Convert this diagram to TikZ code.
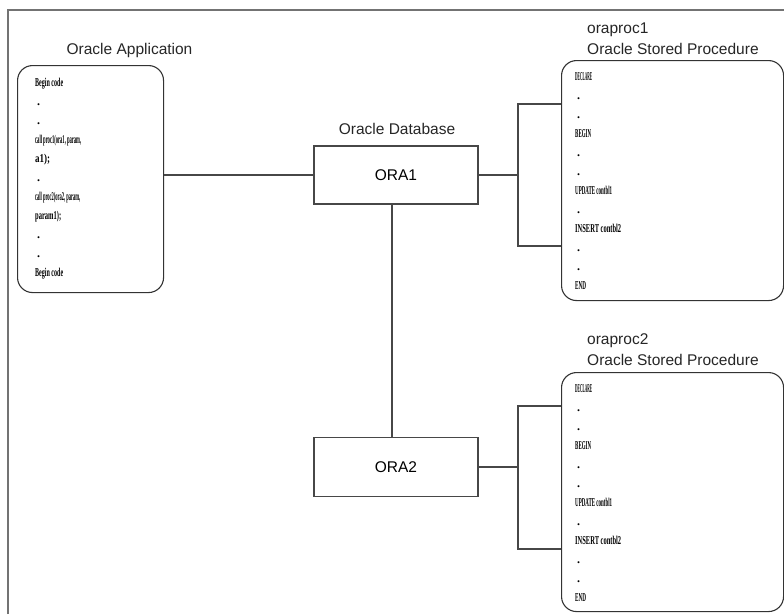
\documentclass[tikz,border=0pt]{standalone}
\usepackage{fontspec}
\setmainfont{Liberation Sans}
\newfontfamily\codefont{Liberation Serif}
\usepackage{graphicx}
\newcommand{\cw}[2]{\resizebox{#1pt}{\height}{#2}}
\tikzset{
  conn/.style={draw=black!72, line width=1.1pt},
  outerframe/.style={draw=black!55, line width=1.6pt},
  dbbox/.style={draw=black!72, line width=1.1pt, inner sep=0pt,
    font=\fontsize{15.5}{18}\selectfont},
  codebox/.style={draw=black!80, line width=1.1pt, rounded corners=15pt,
    inner sep=0pt, anchor=north west},
  lbl/.style={font=\fontsize{15.5}{18}\selectfont, inner sep=0pt, text=black!85},
  codeline/.style={anchor=base west, inner sep=0pt,
    font=\codefont\bfseries\fontsize{12}{12}\selectfont},
}
\begin{document}
\begin{tikzpicture}[x=1pt,y=-1pt]
\useasboundingbox (0,0) rectangle (784,614);
% outer frame (cut off at right and bottom)
\coordinate (fbl) at (8,614);
\coordinate (ftl) at (8,10);
\coordinate (ftr) at (784,10);
\draw[outerframe] (fbl) -- (ftl) -- (ftr);

% boxes
\node[codebox, minimum width=146pt, minimum height=227pt] (app) at (17,65) {};
\node[codebox, minimum width=222pt, minimum height=240pt] (proc1) at (561,60) {};
\node[codebox, minimum width=222pt, minimum height=239pt] (proc2) at (561,372) {};
\node[dbbox, minimum width=164pt, minimum height=58pt] (ora1) at (396,175) {ORA1};
\node[dbbox, minimum width=164pt, minimum height=59pt] (ora2) at (396,467) {ORA2};

% titles
\node[lbl] (tapp) at (129.5,50) {Oracle Application};
\node[lbl] (tdb) at (397,129) {Oracle Database};
\node[lbl, anchor=west] (tp1a) at (587,30) {oraproc1};
\node[lbl, anchor=west] (tp1b) at (587,49) {Oracle Stored Procedure};
\node[lbl, anchor=west] (tp2a) at (587,341) {oraproc2};
\node[lbl, anchor=west] (tp2b) at (587,360) {Oracle Stored Procedure};

% connectors
\draw[conn] (app.east |- ora1.west) -- (ora1.west);
\coordinate (b1t) at (518,104);
\coordinate (b1b) at (518,246);
\draw[conn] (ora1.east) -- (ora1.east -| b1t);
\draw[conn] (b1t -| proc1.west) -- (b1t) -- (b1b) -- (b1b -| proc1.west);
\coordinate (b2t) at (518,406);
\coordinate (b2b) at (518,549);
\draw[conn] (ora2.east) -- (ora2.east -| b2t);
\draw[conn] (b2t -| proc2.west) -- (b2t) -- (b2b) -- (b2b -| proc2.west);
\draw[conn] ([xshift=-4pt]ora1.south) -- ([xshift=-4pt]ora2.north);

% code in application box
\foreach \i/\t in {0/{\cw{28}{Begin code}}, 1/{\hspace{2pt}.}, 2/{\hspace{2pt}.},
  3/{\cw{46}{call proc1(ora1, param,}}, 4/{\cw{15}{a1);}}, 5/{\hspace{2pt}.},
  6/{\cw{45}{call proc2(ora2, param,}}, 7/{\cw{26}{param1);}}, 8/{\hspace{2pt}.},
  9/{\hspace{2pt}.}, 10/{\cw{28}{Begin code}}}
  \node[codeline, name=ac\i] at (35,{86+19*\i}) {\t};

% code in stored procedure boxes
\foreach \b/\y in {p/80, q/392}
  \foreach \i/\t in {0/{\cw{17}{DECLARE}}, 1/{\hspace{2pt}.}, 2/{\hspace{2pt}.},
    3/{\cw{16}{BEGIN}}, 4/{\hspace{2pt}.}, 5/{\hspace{2pt}.},
    6/{\cw{37}{UPDATE contbl1}}, 7/{\hspace{2pt}.}, 8/{\cw{46}{INSERT contbl2}},
    9/{\hspace{2pt}.}, 10/{\hspace{2pt}.}, 11/{\cw{11}{END}}}
    \node[codeline, name=\b c\i] at (575,{\y+19*\i}) {\t};
\end{tikzpicture}
\end{document}
